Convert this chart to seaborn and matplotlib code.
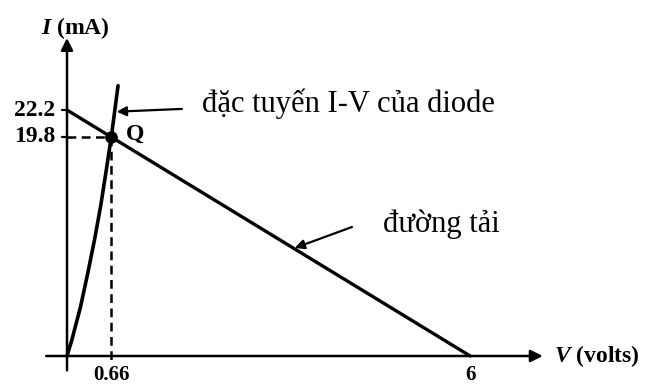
import matplotlib
matplotlib.use("Agg")
import matplotlib.pyplot as plt
import seaborn as sns
import pandas as pd

sns.set_theme(style="white")
plt.rcParams["font.family"] = ["Liberation Serif", "DejaVu Serif"]
plt.rcParams["mathtext.fontset"] = "custom"
plt.rcParams["mathtext.it"] = "Liberation Serif:italic:bold"

# Load line end points: (0 V, 22.2 mA) and (6 V, 0 mA)
load_v = [0.0, 6.0]
load_i = [22.2, 0.0]

# Diode I-V characteristic (V in volts, I in mA)
diode_v = [0.0, 0.07, 0.20, 0.31, 0.41, 0.50, 0.58, 0.66, 0.76]
diode_i = [0.0, 1.4, 4.4, 7.5, 10.5, 13.5, 16.6, 19.8, 24.4]

# Operating point
q_v = 0.66
q_i = 19.8

x_ticks = [0.66, 6]
x_tick_labels = ["0.66", "6"]
y_ticks = [22.2, 19.8]
y_tick_labels = ["22.2", "19.8"]

fig = plt.figure(figsize=(6.49, 3.87), dpi=100)
ax = fig.add_axes([0, 0, 1, 1])
ax.set_xlim(-0.997, 8.661)
ax.set_ylim(-2.798, 32.13)
ax.axis("off")

ink = "black"

# Coordinate axes with arrow heads
ax.annotate("", xy=(7.08, 0), xytext=(-0.31, 0),
            arrowprops=dict(arrowstyle="-|>", color=ink, lw=1.8,
                            mutation_scale=18, shrinkA=0, shrinkB=0))
ax.annotate("", xy=(0, 28.7), xytext=(0, -1.3),
            arrowprops=dict(arrowstyle="-|>", color=ink, lw=1.8,
                            mutation_scale=18, shrinkA=0, shrinkB=0))

# Load line and diode characteristic
load_df = pd.DataFrame({"V": load_v, "I": load_i})
diode_df = pd.DataFrame({"V": diode_v, "I": diode_i})
sns.lineplot(data=load_df, x="V", y="I", ax=ax, color=ink, lw=2.4, sort=False)
sns.lineplot(data=diode_df, x="V", y="I", ax=ax, color=ink, lw=2.6, sort=False)

# Projection of the Q point onto the axes
ax.plot([0, q_v], [q_i, q_i], color=ink, lw=1.8, ls=(0, (3.5, 2.2)))
ax.plot([q_v, q_v], [q_i, -0.7], color=ink, lw=1.8, ls=(0, (3.5, 2.2)))
sns.scatterplot(x=[q_v], y=[q_i], ax=ax, color=ink, s=70, zorder=5,
                edgecolor=ink)
ax.text(q_v + 0.22, q_i + 0.2, "Q", fontsize=17, fontweight="bold",
        ha="left", va="center", color=ink)

# Short tick marks
for yt in y_ticks:
    ax.plot([-0.08, 0], [yt, yt], color=ink, lw=1.6)

# Tick labels
for yt, lab in zip(y_ticks, y_tick_labels):
    ax.text(-0.17, yt, lab, fontsize=17, fontweight="bold",
            ha="right", va="center", color=ink)
for xt, lab in zip(x_ticks, x_tick_labels):
    ax.text(xt, -1.75, lab, fontsize=15, fontweight="bold",
            ha="center", va="center", color=ink)

# Axis titles
ax.text(0.12, 29.6, r"$\mathit{I}$ (mA)", fontsize=17, fontweight="bold",
        ha="center", va="center", color=ink)
ax.text(7.25, 0, r"$\mathit{V}$ (volts)", fontsize=17, fontweight="bold",
        ha="left", va="center", color=ink)

# Callouts
ax.annotate("", xy=(0.74, 22.05), xytext=(1.71, 22.3),
            arrowprops=dict(arrowstyle="-|>", color=ink, lw=1.6,
                            mutation_scale=14, shrinkA=0, shrinkB=0))
ax.text(2.01, 22.8, "đặc tuyến I-V của diode", fontsize=22,
        ha="left", va="center", color=ink)
ax.annotate("", xy=(3.39, 9.75), xytext=(4.24, 11.64),
            arrowprops=dict(arrowstyle="-|>", color=ink, lw=1.6,
                            mutation_scale=14, shrinkA=0, shrinkB=0))
ax.text(4.70, 11.9, "đường tải", fontsize=22, ha="left", va="center",
        color=ink)

fig.savefig("out.png", dpi=100, facecolor="white")
